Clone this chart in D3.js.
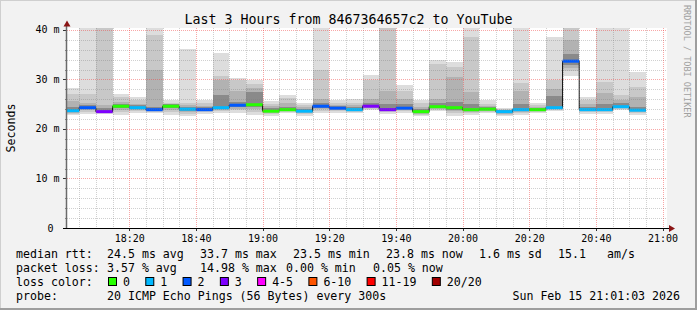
<!DOCTYPE html>
<html>
<head>
<meta charset="utf-8">
<script src="https://cdn.jsdelivr.net/npm/d3@7"></script>
<style>
  body { margin: 0; background: #fff; }
  text { font-family: "DejaVu Sans Mono", monospace; }
</style>
</head>
<body>
<script>
// one value per 5 minute step, 18:05 .. 20:55
const medianRtt = [23.7, 24.3, 23.5, 24.6, 24.3, 23.9, 24.6, 24.0, 23.9, 24.3,
                   24.8, 24.9, 23.6, 23.9, 23.6, 24.6, 24.2, 23.9, 24.6, 23.9,
                   24.2, 23.5, 24.5, 24.3, 23.9, 24.0, 23.5, 23.9, 23.9, 24.3,
                   33.7, 23.9, 23.9, 24.5, 23.8];
const lossCount = [1, 2, 3, 0, 1, 2, 0, 1, 2, 1,
                   2, 0, 0, 0, 1, 2, 2, 1, 3, 3,
                   2, 0, 0, 0, 0, 0, 1, 1, 0, 1,
                   2, 1, 1, 1, 1];
// smoke: ping spread per step (ms)
const pingMax  = [28.3, 42, 42, 27.1, 26.5, 42, 25.8, 36.2, 25.9, 35.4,
                  30.4, 29.8, 25.6, 26.9, 25.2, 42, 25.9, 26.0, 31.0, 42,
                  28.9, 25.8, 34.0, 33.6, 42, 25.9, 24.2, 42, 25.3, 38.5,
                  42, 26.5, 42, 42, 31.5];
const pingHigh = [27.0, 27.0, 42, 26.4, 25.9, 38.9, 25.2, 25.3, 25.2, 30.8,
                  29.8, 29.0, 25.1, 26.2, 24.9, 32.0, 25.2, 25.3, 29.9, 42,
                  27.7, 25.2, 33.2, 32.6, 38.5, 25.1, 24.0, 29.2, 24.8, 29.8,
                  42, 25.9, 29.5, 26.9, 28.5];
const pingMid  = [25.7, 25.2, 24.8, 25.5, 25.0, 31.9, 24.9, 24.8, 24.7, 29.8,
                  27.7, 28.2, 24.6, 25.2, 24.4, 26.0, 24.8, 24.8, 26.0, 27.7,
                  26.0, 24.5, 26.0, 30.5, 27.5, 24.7, 23.9, 27.7, 24.5, 28.0,
                  38.0, 25.0, 27.2, 25.8, 26.5];
const pingCore = [24.4, 24.9, 24.2, 25.1, 24.8, 24.5, 25.0, 24.5, 24.4, 26.9,
                  25.5, 27.5, 24.2, 24.5, 24.1, 25.2, 24.6, 24.4, 25.2, 25.0,
                  25.0, 24.1, 25.2, 25.5, 25.0, 24.5, 23.8, 25.0, 24.3, 26.6,
                  35.2, 24.5, 25.0, 25.2, 24.5];
const pingMin  = [22.8, 23.1, 23.1, 22.8, 23.3, 23.3, 22.9, 22.7, 23.1, 23.3,
                  23.3, 22.8, 22.7, 23.3, 22.7, 23.3, 23.3, 23.3, 23.8, 23.1,
                  23.3, 22.6, 23.6, 22.7, 22.8, 23.3, 22.6, 22.9, 23.3, 23.6,
                  30.8, 23.1, 23.1, 23.8, 22.9];

const lossLabels = ["0", "1", "2", "3", "4-5", "6-10", "11-19", "20/20"];
const lossColors = ["#26ff00", "#00b8ff", "#0059ff", "#7e00ff", "#ff00ff", "#ff5500", "#ff0000", "#a10000"];
const yTicks = [0, 10, 20, 30, 40];
const yTickLabels = ["0 ", "10 m", "20 m", "30 m", "40 m"];

const W = 697, H = 310;
const day = (h, m, s) => new Date(2026, 1, 15, h, m, s || 0);
const steps = d3.timeMinute.every(5).range(day(18, 5), day(20, 56));

const svg = d3.select("body").append("svg")
  .attr("width", W).attr("height", H);

// frame
svg.append("rect").attr("width", W).attr("height", H).attr("fill", "#f2f2f2");
svg.append("path").attr("d", `M0,${H}V0H${W}`).attr("fill", "none").attr("stroke", "#cfcfcf").attr("stroke-width", 2);
svg.append("path").attr("d", `M0,${H - 1}H${W - 1}V0`).attr("fill", "none").attr("stroke", "#9e9e9e").attr("stroke-width", 2);

const x = d3.scaleTime().domain([day(18, 1, 20), day(21, 1, 20)]).range([67, 667]);
const y = d3.scaleLinear().domain([0, 40.4]).range([228, 28]);

svg.append("rect").attr("x", 67).attr("y", 28).attr("width", 600).attr("height", 200).attr("fill", "#fff");
svg.append("clipPath").attr("id", "plot")
  .append("rect").attr("x", 67).attr("y", 28).attr("width", 600).attr("height", 200);

const g = svg.append("g").attr("clip-path", "url(#plot)");

// smoke layers, outer (light) to inner (dark)
const layers = [
  { top: pingMax,  f: 0,    color: "#dddddd" },
  { top: pingHigh, f: 0.3,  color: "#c8c8c8" },
  { top: pingMid,  f: 0.55, color: "#b2b2b2" },
  { top: pingCore, f: 0.75, color: "#8a8a8a" }
];
layers.forEach(L => {
  g.append("g").selectAll("rect")
    .data(steps)
    .enter().append("rect")
    .attr("shape-rendering", "crispEdges")
    .attr("x", d => x(d3.timeMinute.offset(d, -5)))
    .attr("width", d => x(d) - x(d3.timeMinute.offset(d, -5)))
    .attr("y", (d, i) => y(L.top[i]))
    .attr("height", (d, i) => {
      const bottom = pingMin[i] + (medianRtt[i] - pingMin[i]) * L.f;
      return Math.max(0, y(bottom) - y(L.top[i]));
    })
    .attr("fill", L.color);
});

// grid
const minorY = d3.range(2, 41, 2).filter(v => v % 10 !== 0);
const majorY = [10, 20, 30, 40];
const minorX = d3.timeMinute.every(5).range(day(18, 5), day(21, 1)).filter(d => d.getMinutes() % 20 !== 0);
const majorX = d3.timeMinute.every(20).range(day(18, 20), day(21, 1));
const grid = svg.append("g").attr("fill", "none").attr("stroke-dasharray", "1,1");
grid.selectAll(".hmin").data(minorY).enter().append("line")
  .attr("x1", 67).attr("x2", 667).attr("y1", d => Math.round(y(d)) + 0.5).attr("y2", d => Math.round(y(d)) + 0.5)
  .attr("stroke", "rgba(120,120,120,0.35)");
grid.selectAll(".vmin").data(minorX).enter().append("line")
  .attr("y1", 28).attr("y2", 228).attr("x1", d => Math.round(x(d)) + 0.5).attr("x2", d => Math.round(x(d)) + 0.5)
  .attr("stroke", "rgba(120,120,120,0.35)");
grid.selectAll(".hmaj").data(majorY).enter().append("line")
  .attr("x1", 67).attr("x2", 667).attr("y1", d => Math.round(y(d)) + 0.5).attr("y2", d => Math.round(y(d)) + 0.5)
  .attr("stroke", "rgba(240,60,60,0.45)");
grid.selectAll(".vmaj").data(majorX).enter().append("line")
  .attr("y1", 28).attr("y2", 228).attr("x1", d => Math.round(x(d)) + 0.5).attr("x2", d => Math.round(x(d)) + 0.5)
  .attr("stroke", "rgba(240,60,60,0.45)");

// median step line
const medPts = [];
steps.forEach((d, i) => {
  medPts.push([x(d3.timeMinute.offset(d, -5)), y(medianRtt[i])]);
  medPts.push([x(d), y(medianRtt[i])]);
});
g.append("path").attr("d", d3.line()(medPts))
  .attr("fill", "none").attr("stroke", "#111").attr("stroke-width", 1);

// loss colour band on the median
const lossIndex = n => n <= 3 ? n : n <= 5 ? 4 : n <= 10 ? 5 : n <= 19 ? 6 : 7;
g.append("g").selectAll("rect")
  .data(steps)
  .enter().append("rect")
  .attr("x", d => x(d3.timeMinute.offset(d, -5)))
  .attr("width", d => x(d) - x(d3.timeMinute.offset(d, -5)))
  .attr("y", (d, i) => y(medianRtt[i]) - 1.5)
  .attr("height", 3)
  .attr("fill", (d, i) => lossColors[lossIndex(lossCount[i])]);

// axes
svg.append("g").selectAll("line").data(minorY).enter().append("line")
  .attr("x1", 65).attr("x2", 67).attr("y1", d => Math.round(y(d)) + 0.5).attr("y2", d => Math.round(y(d)) + 0.5)
  .attr("stroke", "#888");
svg.append("g").selectAll("line").data(yTicks).enter().append("line")
  .attr("x1", 63).attr("x2", 67).attr("y1", d => Math.round(y(d)) + 0.5).attr("y2", d => Math.round(y(d)) + 0.5)
  .attr("stroke", "#333");
svg.append("g").selectAll("line").data(majorX).enter().append("line")
  .attr("y1", 228).attr("y2", 231).attr("x1", d => Math.round(x(d)) + 0.5).attr("x2", d => Math.round(x(d)) + 0.5)
  .attr("stroke", "#333");
svg.append("line").attr("x1", 66.5).attr("x2", 66.5).attr("y1", 229).attr("y2", 24)
  .attr("stroke", "#6a6a6a").attr("stroke-width", 1.5);
svg.append("line").attr("x1", 63).attr("x2", 670).attr("y1", 228.5).attr("y2", 228.5)
  .attr("stroke", "#000");
svg.append("path").attr("d", "M63.5,26.5L70.5,26.5L67,20.5Z").attr("fill", "#8b1515");
svg.append("path").attr("d", "M669,225L669,232L675,228.5Z").attr("fill", "#8b1515");

// tick labels
svg.append("g").selectAll("text").data(yTicks).enter().append("text")
  .attr("x", 59.5).attr("y", d => y(d) + 3.5)
  .attr("text-anchor", "end").style("white-space", "pre")
  .attr("font-size", "10px").attr("fill", "#000")
  .text((d, i) => yTickLabels[i]);
svg.append("g").selectAll("text").data(majorX).enter().append("text")
  .attr("x", d => x(d) + 0.5).attr("y", 242)
  .attr("text-anchor", "middle").attr("font-size", "10px").attr("fill", "#000")
  .text(d3.timeFormat("%H:%M"));

// titles
svg.append("text").attr("x", 348.5).attr("y", 24).attr("text-anchor", "middle")
  .attr("font-size", "13.3px").attr("fill", "#000")
  .text("Last 3 Hours from 8467364657c2 to YouTube");
svg.append("text").attr("transform", "translate(15,128) rotate(-90)")
  .attr("text-anchor", "middle").attr("font-size", "11.6px").attr("fill", "#000")
  .text("Seconds");
svg.append("text").attr("transform", "translate(684,5) rotate(90)")
  .attr("font-size", "8.5px").attr("fill", "#a0a0a0")
  .text("RRDTOOL / TOBI OETIKER");

// legend rows
const legendFont = "11.6px";
const rows = [
  [[16, 258, "median rtt:"], [107, 258, "24.5 ms avg"], [200, 258, "33.7 ms max"], [293, 258, "23.5 ms min"],
   [386, 258, "23.8 ms now"], [479, 258, "1.6 ms sd"], [558, 258, "15.1"], [607, 258, "am/s"]],
  [[16, 272, "packet loss:"], [107, 272, "3.57 % avg"], [200, 272, "14.98 % max"], [286, 272, "0.00 % min"],
   [373, 272, "0.05 % now"]],
  [[16, 286, "loss color:"]],
  [[16, 300, "probe:"], [107, 300, "20 ICMP Echo Pings (56 Bytes) every 300s"]]
];
rows.forEach(r => r.forEach(([tx, ty, s]) => {
  svg.append("text").attr("x", tx).attr("y", ty).attr("font-size", legendFont).attr("fill", "#000").text(s);
}));
svg.append("text").attr("x", 680).attr("y", 300).attr("text-anchor", "end")
  .attr("font-size", legendFont).attr("fill", "#000").text("Sun Feb 15 21:01:03 2026");

let lx = 108;
lossLabels.forEach((lab, i) => {
  svg.append("rect").attr("x", lx + 0.5).attr("y", 277.5).attr("width", 8).attr("height", 8)
    .attr("fill", lossColors[i]).attr("stroke", "#000");
  const t = svg.append("text").attr("x", lx + 15).attr("y", 286)
    .attr("font-size", legendFont).attr("fill", "#000").text(lab);
  lx += 15 + t.node().getComputedTextLength() + 15.3;
});
</script>
</body>
</html>
